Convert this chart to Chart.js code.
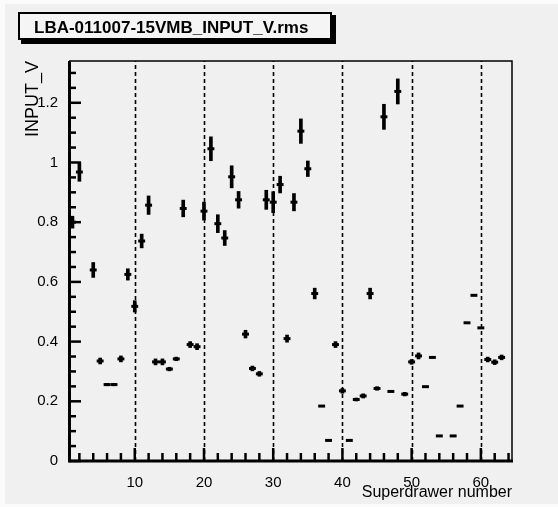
<!DOCTYPE html>
<html>
<head>
<meta charset="utf-8">
<script src="https://cdn.jsdelivr.net/npm/chart.js@4.4.1/dist/chart.umd.min.js"></script>
<style>
  html, body { margin: 0; padding: 0; background: #fbfbfb; }
  #wrap { width: 558px; height: 507px; }
</style>
</head>
<body>
<div id="wrap"><canvas id="chart" width="558" height="507"></canvas></div>
<script>
// superdrawer bins that have an entry (3, 55 and 64 are empty)
const binNumbers = [
  1, 2, 4, 5, 6, 7, 8, 9, 10,
  11, 12, 13, 14, 15, 16, 17, 18, 19, 20,
  21, 22, 23, 24, 25, 26, 27, 28, 29, 30,
  31, 32, 33, 34, 35, 36, 37, 38, 39, 40,
  41, 42, 43, 44, 45, 46, 47, 48, 49, 50,
  51, 52, 53, 54, 56, 57, 58, 59, 60,
  61, 62, 63
];
const rmsValues = [
  0.800, 0.968, 0.640, 0.335, 0.256, 0.256, 0.342, 0.625, 0.518,
  0.737, 0.857, 0.332, 0.332, 0.308, 0.342, 0.846, 0.390, 0.383, 0.837,
  1.046, 0.795, 0.747, 0.952, 0.875, 0.425, 0.310, 0.292, 0.875, 0.867,
  0.926, 0.410, 0.867, 1.105, 0.979, 0.561, 0.184, 0.069, 0.390, 0.235,
  0.069, 0.206, 0.218, 0.561, 0.243, 1.153, 0.233, 1.238, 0.224, 0.332,
  0.352, 0.249, 0.347, 0.084, 0.084, 0.184, 0.463, 0.555, 0.446,
  0.340, 0.331, 0.347
];
const rmsErrors = [
  0.020, 0.031, 0.025, 0.010, 0.004, 0.004, 0.010, 0.019, 0.019,
  0.023, 0.031, 0.010, 0.010, 0.006, 0.006, 0.028, 0.010, 0.010, 0.030,
  0.040, 0.030, 0.025, 0.037, 0.028, 0.013, 0.008, 0.008, 0.032, 0.035,
  0.028, 0.012, 0.029, 0.041, 0.026, 0.018, 0, 0, 0.010, 0.008,
  0, 0.005, 0.007, 0.018, 0.006, 0.042, 0, 0.042, 0.006, 0.008,
  0.010, 0, 0, 0, 0, 0, 0, 0, 0,
  0.008, 0.008, 0.008
];
const xTickValues = [10, 20, 30, 40, 50, 60];
const yTickValues = [0, 0.2, 0.4, 0.6, 0.8, 1, 1.2];
const plotTitle = "LBA-011007-15VMB_INPUT_V.rms";
const xTitle = "Superdrawer number";
const yTitle = "INPUT_V";

const FONT = "'Liberation Sans', Arial, Helvetica, sans-serif";
const BG = "#f0f0f0";

const centerPoints = binNumbers.map((b, i) => ({ x: b, y: rmsValues[i] }));
const errorBars = binNumbers
  .map((b, i) => ({ x: b, y: [rmsValues[i] - rmsErrors[i], rmsValues[i] + rmsErrors[i]], e: rmsErrors[i] }))
  .filter((p) => p.e > 0);

// ROOT-like frame: panel, title box, dashed lines, inward ticks
const rootStyle = {
  id: "rootStyle",
  beforeDraw(chart) {
    const ctx = chart.ctx;
    ctx.save();
    ctx.fillStyle = BG;
    ctx.fillRect(5, 4, 553, 500);

    // title box with shadow
    ctx.fillStyle = "#000";
    ctx.fillRect(21, 15, 315, 29);
    ctx.fillStyle = "#f5f5f5";
    ctx.fillRect(18, 12, 314, 28);
    ctx.lineWidth = 2;
    ctx.strokeStyle = "#000";
    ctx.strokeRect(19, 13, 312, 26);
    ctx.fillStyle = "#000";
    ctx.font = "bold 17px " + FONT;
    ctx.textBaseline = "alphabetic";
    ctx.textAlign = "left";
    ctx.fillText(plotTitle, 34, 33);
    ctx.restore();
  },
  beforeDatasetsDraw(chart) {
    const { ctx, chartArea, scales } = chart;
    ctx.save();
    ctx.strokeStyle = "#000";
    ctx.lineWidth = 1.6;
    ctx.setLineDash([4, 3]);
    xTickValues.forEach((v) => {
      const px = Math.round(scales.x.getPixelForValue(v)) + 0.5;
      ctx.beginPath();
      ctx.moveTo(px, chartArea.bottom);
      ctx.lineTo(px, chartArea.top);
      ctx.stroke();
    });
    ctx.restore();
  },
  afterDatasetsDraw(chart) {
    const { ctx, chartArea, scales } = chart;
    const { left, right, top, bottom } = chartArea;
    ctx.save();
    ctx.strokeStyle = "#000";
    ctx.setLineDash([]);
    // thin top/right frame
    ctx.lineWidth = 1.5;
    ctx.beginPath();
    ctx.moveTo(left, top);
    ctx.lineTo(right, top);
    ctx.lineTo(right, bottom);
    ctx.stroke();
    // thick axes
    ctx.lineWidth = 3;
    ctx.beginPath();
    ctx.moveTo(left + 0.5, top);
    ctx.lineTo(left + 0.5, bottom);
    ctx.lineTo(right + 1, bottom);
    ctx.stroke();
    // y ticks every 0.05, majors every 0.2
    ctx.lineWidth = 2.5;
    for (let k = 0; k <= 26; k++) {
      const v = k * 0.05;
      const py = scales.y.getPixelForValue(v);
      const len = k % 4 === 0 ? 12 : 7;
      ctx.beginPath();
      ctx.moveTo(left, py);
      ctx.lineTo(left + len, py);
      ctx.stroke();
    }
    // x ticks every 2, majors every 10
    for (let v = 2; v <= 64; v += 2) {
      const px = scales.x.getPixelForValue(v);
      const len = v % 10 === 0 ? 13 : 8;
      ctx.beginPath();
      ctx.moveTo(px, bottom);
      ctx.lineTo(px, bottom - len);
      ctx.stroke();
    }
    ctx.restore();
  },
};

const halfBin = (c) => {
  const xs = c.chart.scales.x;
  return xs ? (xs.getPixelForValue(1) - xs.getPixelForValue(0)) / 2 : 3.5;
};

new Chart(document.getElementById("chart"), {
  data: {
    datasets: [
      {
        type: "bar",
        data: errorBars,
        backgroundColor: "#000",
        borderWidth: 0,
        barThickness: 3,
        grouped: false,
      },
      {
        type: "scatter",
        data: centerPoints,
        pointStyle: "line",
        radius: halfBin,
        hoverRadius: halfBin,
        borderWidth: 3,
        borderColor: "#000",
        backgroundColor: "#000",
      },
    ],
  },
  options: {
    responsive: false,
    animation: false,
    layout: { padding: { top: 61, right: 46, left: 0, bottom: 0 } },
    plugins: { legend: { display: false }, tooltip: { enabled: false } },
    scales: {
      x: {
        type: "linear",
        min: 0.5,
        max: 64.5,
        offset: false,
        grid: { display: false, offset: false },
        border: { display: false },
        afterBuildTicks: (scale) => {
          scale.ticks = xTickValues.map((v) => ({ value: v }));
        },
        afterFit: (scale) => {
          scale.height = 46;
        },
        ticks: {
          autoSkip: false,
          maxRotation: 0,
          padding: 5,
          color: "#000",
          font: { family: FONT, size: 15 },
        },
        title: {
          display: true,
          text: xTitle,
          align: "end",
          color: "#000",
          font: { family: FONT, size: 16 },
          padding: { top: 0, bottom: 4.5 },
        },
      },
      y: {
        type: "linear",
        min: 0,
        max: 1.34,
        grid: { display: false },
        border: { display: false },
        afterBuildTicks: (scale) => {
          scale.ticks = yTickValues.map((v) => ({ value: v }));
        },
        afterFit: (scale) => {
          scale.width = 69;
        },
        ticks: {
          padding: 3,
          color: "#000",
          font: { family: FONT, size: 15 },
          callback: (v) => String(Math.round(v * 10) / 10),
        },
        title: {
          display: true,
          text: yTitle,
          align: "end",
          color: "#000",
          font: { family: FONT, size: 18 },
          padding: { top: 22, bottom: 0 },
        },
      },
    },
  },
  plugins: [rootStyle],
});
</script>
</body>
</html>
